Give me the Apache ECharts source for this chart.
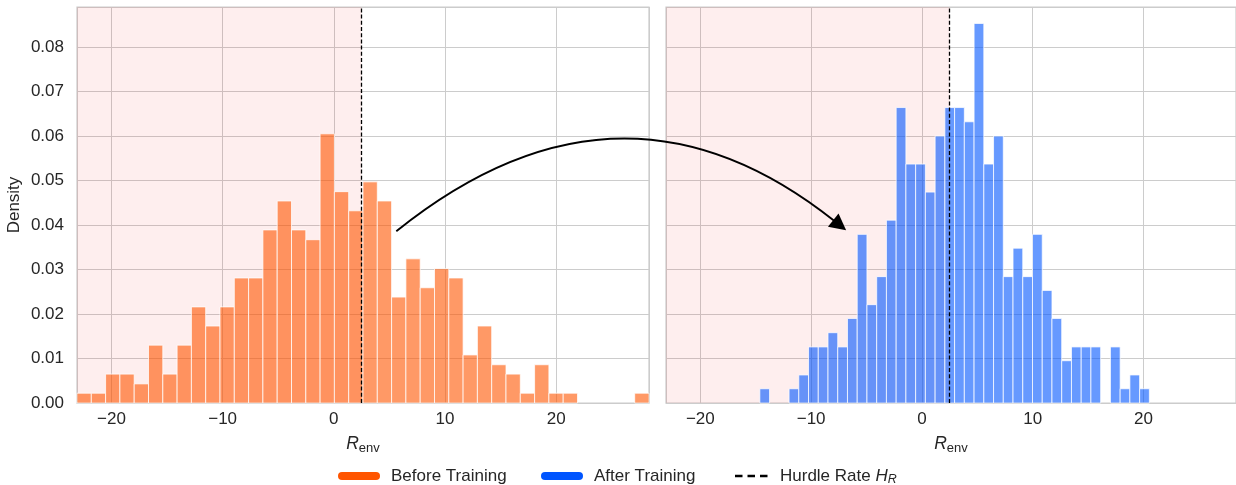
<!DOCTYPE html>
<html>
<head>
<meta charset="utf-8">
<script src="https://cdn.jsdelivr.net/npm/echarts@6/dist/echarts.min.js"></script>
<style>
  html, body { margin: 0; padding: 0; background: #ffffff; }
  #chart { width: 1236px; height: 485px; }
</style>
</head>
<body>
<div id="chart"></div>
<script>
// R_env histogram densities (40 equal-width bins per run)
const beforeBinStart = -23.1;
const beforeBinWidth = 1.28625;
const beforeDensity = [
  0.0022, 0.0022, 0.0065, 0.0065, 0.0043, 0.0130, 0.0065, 0.0130, 0.0216, 0.0173,
  0.0216, 0.0281, 0.0281, 0.0389, 0.0454, 0.0389, 0.0367, 0.0605, 0.0475, 0.0432,
  0.0497, 0.0454, 0.0238, 0.0324, 0.0259, 0.0302, 0.0281, 0.0108, 0.0173, 0.0086,
  0.0065, 0.0022, 0.0086, 0.0022, 0.0022, 0, 0, 0, 0, 0.0022
];

const afterBinStart = -14.63;
const afterBinWidth = 0.879;
const afterDensity = [
  0.0032, 0, 0, 0.0032, 0.0063, 0.0126, 0.0126, 0.0158, 0.0126, 0.0190,
  0.0379, 0.0221, 0.0284, 0.0411, 0.0664, 0.0537, 0.0537, 0.0474, 0.0600, 0.0664,
  0.0664, 0.0632, 0.0853, 0.0537, 0.0600, 0.0284, 0.0348, 0.0284, 0.0379, 0.0253,
  0.0190, 0.0095, 0.0126, 0.0126, 0.0126, 0, 0.0126, 0.0032, 0.0063, 0.0032
];

const hurdleRate = 2.5;
const xRange = [-23.1, 28.35];
const yRange = [0, 0.089];
const yTickStep = 0.01;

// arrow from the "before" panel to the "after" panel, in data coordinates
const arrowFrom = [5.62, 0.0386];
const arrowTo = [-6.84, 0.0388];

const FONT = '"Liberation Sans", Arial, Helvetica, sans-serif';
const TEXT = '#262626';
const GRID_LINE = '#cccccc';
const ORANGE = '#ff5500';
const BLUE = '#0055ff';
const FS = 17;

function toBins(start, width, dens) {
  return dens.map((d, i) => [start + i * width, start + (i + 1) * width, d]);
}

function histRenderer(fill) {
  return function (params, api) {
    const h = api.value(2);
    if (!(h > 0)) return null;
    const p0 = api.coord([api.value(0), h]);
    const p1 = api.coord([api.value(1), 0]);
    return {
      type: 'rect',
      shape: { x: p0[0], y: p0[1], width: p1[0] - p0[0], height: p1[1] - p0[1] },
      style: { fill: fill, stroke: 'rgba(255,255,255,0.75)', lineWidth: 1 }
    };
  };
}

function spanRenderer(params, api) {
  const cs = params.coordSys;
  const a = api.coord([api.value(0), yRange[1]]);
  const b = api.coord([api.value(1), yRange[0]]);
  return {
    type: 'rect',
    shape: { x: a[0], y: cs.y, width: b[0] - a[0], height: cs.height },
    style: { fill: 'rgba(240,20,20,0.07)' }
  };
}

function fmtX(v) {
  return v < 0 ? '\u2212' + Math.abs(v) : String(v);
}

function makeXAxis(gridIndex) {
  return {
    type: 'value', gridIndex: gridIndex,
    min: xRange[0], max: xRange[1],
    name: '{i|R}{s|env}',
    nameLocation: 'middle', nameGap: 30,
    nameTextStyle: {
      rich: {
        i: { fontFamily: FONT, fontSize: 17.5, fontStyle: 'italic', color: TEXT, lineHeight: 22 },
        s: { fontFamily: FONT, fontSize: 13, color: TEXT, lineHeight: 12, verticalAlign: 'bottom' }
      }
    },
    axisLine: { show: false }, axisTick: { show: false },
    axisLabel: {
      showMinLabel: false, showMaxLabel: false,
      fontFamily: FONT, fontSize: FS, color: TEXT, margin: 8,
      formatter: fmtX
    },
    splitLine: { show: true, lineStyle: { color: GRID_LINE, width: 1 } }
  };
}

function makeYAxis(gridIndex, showLabels) {
  return {
    type: 'value', gridIndex: gridIndex,
    min: yRange[0], max: yRange[1], interval: yTickStep,
    name: showLabels ? 'Density' : '',
    nameLocation: 'middle', nameGap: 54,
    nameTextStyle: { fontFamily: FONT, fontSize: FS, color: TEXT },
    axisLine: { show: false }, axisTick: { show: false },
    axisLabel: {
      show: showLabels, showMaxLabel: false,
      fontFamily: FONT, fontSize: FS, color: TEXT, margin: 13,
      formatter: v => v.toFixed(2)
    },
    splitLine: { show: true, lineStyle: { color: GRID_LINE, width: 1 } }
  };
}

function hurdleSeries(idx) {
  return {
    type: 'custom', xAxisIndex: idx, yAxisIndex: idx, z: 1,
    renderItem: spanRenderer,
    data: [[xRange[0], hurdleRate]],
    silent: true,
    markLine: {
      silent: true, symbol: 'none', animation: false,
      label: { show: false },
      lineStyle: { color: '#000000', type: [4, 2.2], width: 1.3 },
      data: [{ xAxis: hurdleRate }]
    }
  };
}

const chart = echarts.init(document.getElementById('chart'), null, { renderer: 'canvas' });

chart.setOption({
  animation: false,
  backgroundColor: '#ffffff',
  grid: [
    { left: 77, top: 7, width: 572, height: 396, show: true, borderColor: GRID_LINE, borderWidth: 1.25, backgroundColor: 'transparent' },
    { left: 666, top: 7, width: 572, height: 396, show: true, borderColor: GRID_LINE, borderWidth: 1.25, backgroundColor: 'transparent' }
  ],
  xAxis: [makeXAxis(0), makeXAxis(1)],
  yAxis: [makeYAxis(0, true), makeYAxis(1, false)],
  series: [
    hurdleSeries(0),
    hurdleSeries(1),
    {
      name: 'Before Training', type: 'custom', xAxisIndex: 0, yAxisIndex: 0, z: 2,
      renderItem: histRenderer('rgba(255,85,0,0.6)'),
      data: toBins(beforeBinStart, beforeBinWidth, beforeDensity)
    },
    {
      name: 'After Training', type: 'custom', xAxisIndex: 1, yAxisIndex: 1, z: 2,
      renderItem: histRenderer('rgba(0,85,255,0.6)'),
      data: toBins(afterBinStart, afterBinWidth, afterDensity)
    }
  ]
});

// curved arrow and legend
(function drawOverlay() {
  const p0 = chart.convertToPixel({ gridIndex: 0 }, arrowFrom);
  const p2 = chart.convertToPixel({ gridIndex: 1 }, arrowTo);
  const rad = 0.4;
  const mx = (p0[0] + p2[0]) / 2, my = (p0[1] + p2[1]) / 2;
  const dx = p2[0] - p0[0], dy = p2[1] - p0[1];
  const cx = mx + rad * dy, cy = my - rad * dx;
  let tx = p2[0] - cx, ty = p2[1] - cy;
  const tl = Math.hypot(tx, ty); tx /= tl; ty /= tl;
  const L = 16.5, W = 8.5;
  const bx = p2[0] - L * tx, by = p2[1] - L * ty;
  const head = [
    [p2[0], p2[1]],
    [bx - W * ty, by + W * tx],
    [bx + W * ty, by - W * tx]
  ];

  const ly = 476;
  const legendText = { fontFamily: FONT, fontSize: FS, fill: TEXT };
  chart.setOption({
    graphic: [
      {
        type: 'bezierCurve', z: 100, silent: true,
        shape: { x1: p0[0], y1: p0[1], x2: bx + 2 * tx, y2: by + 2 * ty, cpx1: cx, cpy1: cy },
        style: { stroke: '#000000', lineWidth: 1.9, fill: null }
      },
      {
        type: 'polygon', z: 101, silent: true,
        shape: { points: head },
        style: { fill: '#000000' }
      },
      {
        type: 'rect', silent: true,
        shape: { x: 338, y: ly - 4, width: 42, height: 8, r: 4 },
        style: { fill: ORANGE }
      },
      {
        type: 'text', silent: true, x: 391, y: ly,
        style: Object.assign({ text: 'Before Training', verticalAlign: 'middle' }, legendText)
      },
      {
        type: 'rect', silent: true,
        shape: { x: 541, y: ly - 4, width: 42, height: 8, r: 4 },
        style: { fill: BLUE }
      },
      {
        type: 'text', silent: true, x: 594, y: ly,
        style: Object.assign({ text: 'After Training', verticalAlign: 'middle' }, legendText)
      },
      {
        type: 'line', silent: true,
        shape: { x1: 735, y1: ly, x2: 770, y2: ly },
        style: { stroke: '#000000', lineWidth: 2.4, lineDash: [7.5, 5] }
      },
      {
        type: 'text', silent: true, x: 780, y: ly,
        style: {
          text: '{n|Hurdle Rate }{i|H}{s|R}',
          verticalAlign: 'middle',
          rich: {
            n: { fontFamily: FONT, fontSize: FS, fill: TEXT, lineHeight: 20 },
            i: { fontFamily: FONT, fontSize: FS, fontStyle: 'italic', fill: TEXT, lineHeight: 20 },
            s: { fontFamily: FONT, fontSize: 12.5, fontStyle: 'italic', fill: TEXT, lineHeight: 11, verticalAlign: 'bottom' }
          }
        }
      }
    ]
  });
})();
</script>
</body>
</html>
